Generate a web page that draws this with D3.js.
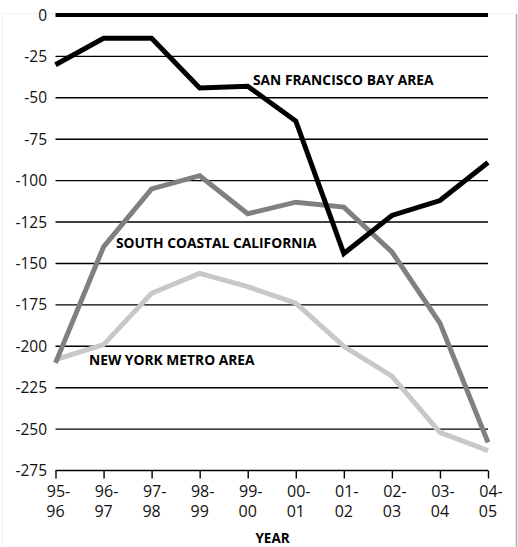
<!DOCTYPE html>
<html>
<head>
<meta charset="utf-8">
<script src="https://cdn.jsdelivr.net/npm/d3@7"></script>
<style>
  body { margin: 0; background: #fff; }
  svg { display: block; }
  text { font-family: "Open Sans", "Noto Sans", sans-serif; }
</style>
</head>
<body>
<svg id="chart" width="518" height="547"></svg>
<script>
var years = ['95-96', '96-97', '97-98', '98-99', '99-00', '00-01', '01-02', '02-03', '03-04', '04-05']
var yTicks = [0, -25, -50, -75, -100, -125, -150, -175, -200, -225, -250, -275]

var sanFrancisco = [-30, -14, -14, -44, -43, -64, -144, -121, -112, -89]
var southCoastal = [-210, -140, -105, -97, -120, -113, -116, -143, -186, -258]
var newYork = [-208, -199, -168, -156, -164, -174, -200, -218, -252, -263]

var series = [
  ['NEW YORK METRO AREA', newYork, '#c8c8c8', 89, 365],
  ['SOUTH COASTAL CALIFORNIA', southCoastal, '#808080', 116, 248],
  ['SAN FRANCISCO BAY AREA', sanFrancisco, '#000000', 253, 85]
]

const plotLeft = 55.5
const plotRight = 488
const plotTop = 15
const plotBottom = 470.5

var svg = d3.select('#chart')

// faint scan frame
svg.append('line')
   .attr('x1', 516.5).attr('x2', 516.5)
   .attr('y1', 14).attr('y2', 547)
   .attr('stroke', '#a8a8a8').attr('stroke-width', 1.5)
svg.append('line')
   .attr('x1', 2.5).attr('x2', 2.5)
   .attr('y1', 14).attr('y2', 547)
   .attr('stroke', '#f0f0f0').attr('stroke-width', 1)
svg.append('line')
   .attr('x1', 2).attr('x2', 516)
   .attr('y1', 13.5).attr('y2', 13.5)
   .attr('stroke', '#f2f2f2').attr('stroke-width', 1)

var x = d3.scalePoint().domain(years).range([plotLeft, plotRight])
var y = d3.scaleLinear().domain([0, -275]).range([plotTop, plotBottom])

// grid lines
svg.append('g')
   .selectAll('line')
   .data(yTicks)
   .enter()
   .append('line')
   .attr('x1', plotLeft)
   .attr('x2', plotRight)
   .attr('y1', d => y(d))
   .attr('y2', d => y(d))
   .attr('stroke', '#000')
   .attr('stroke-width', d => d === 0 ? 3.8 : 1.4)

// y labels
svg.append('g')
   .selectAll('text')
   .data(yTicks)
   .enter()
   .append('text')
   .attr('x', 47)
   .attr('y', d => y(d) + 5.5)
   .attr('text-anchor', 'end')
   .attr('font-size', 15.5)
   .attr('fill', '#111')
   .text(d => d)

// x axis
var xAxis = svg.append('g')
               .attr('transform', 'translate(0,' + y(-275) + ')')
               .call(d3.axisBottom(x).tickSize(8).tickFormat(''))
xAxis.select('.domain').remove()
xAxis.selectAll('.tick line').attr('stroke', '#000').attr('stroke-width', 1.4)

var xLab = svg.append('g')
              .selectAll('text')
              .data(years)
              .enter()
              .append('text')
              .attr('x', d => x(d))
              .attr('y', 497)
              .attr('text-anchor', 'middle')
              .attr('font-size', 16)
              .attr('fill', '#111')
xLab.append('tspan').attr('x', d => x(d) + 3).text(d => d.split('-')[0] + '-')
xLab.append('tspan').attr('x', d => x(d)).attr('dy', 20).text(d => d.split('-')[1])

svg.append('text')
   .attr('x', 272.5)
   .attr('y', 543)
   .attr('text-anchor', 'middle')
   .attr('font-size', 13.5)
   .attr('font-weight', 'bold')
   .text('YEAR')

// lines
var line = d3.line()
             .x((d, i) => x(years[i]))
             .y(d => y(d))

series.forEach(s => {
  svg.append('path')
     .datum(s[1])
     .attr('d', line)
     .attr('fill', 'none')
     .attr('stroke', s[2])
     .attr('stroke-width', 5)
     .attr('stroke-linejoin', 'miter')
})

series.forEach(s => {
  svg.append('text')
     .attr('x', s[3])
     .attr('y', s[4])
     .attr('font-size', 13.8)
     .attr('font-weight', 'bold')
     .attr('fill', '#000')
     .text(s[0])
})
</script>
</body>
</html>
